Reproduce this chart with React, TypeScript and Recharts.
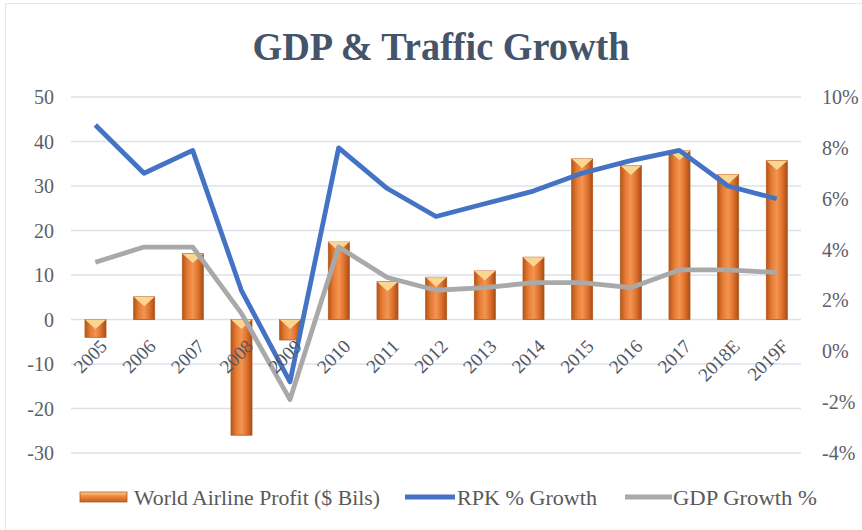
import React from 'react';
import { ComposedChart, Bar, Line, XAxis, YAxis, CartesianGrid } from 'recharts';

const years = ['2005', '2006', '2007', '2008', '2009', '2010', '2011', '2012', '2013', '2014', '2015', '2016', '2017', '2018E', '2019F'];
const profit = [-4, 5.1, 14.8, -26, -4.6, 17.4, 8.5, 9.5, 10.9, 14, 36.1, 34.6, 37.9, 32.6, 35.7];
const rpk = [8.9, 7.0, 7.9, 2.4, -1.2, 8.0, 6.4, 5.3, 5.8, 6.3, 7.0, 7.5, 7.9, 6.5, 6.0];
const gdp = [3.5, 4.1, 4.1, 1.5, -1.9, 4.1, 2.9, 2.4, 2.5, 2.7, 2.7, 2.5, 3.2, 3.2, 3.1];

const leftTicks = [-30, -20, -10, 0, 10, 20, 30, 40, 50];
const rightTicks = [-4, -2, 0, 2, 4, 6, 8, 10];

const data = years.map((year, i) => ({ year, profit: profit[i], rpk: rpk[i], gdp: gdp[i] }));

// plot box
const W = 862;
const H = 530;
const TOP = 97;
const BOTTOM = 453;
const X_AXIS_H = 30;
const PLOT_H = BOTTOM - TOP;
const zeroShift = (PLOT_H * (0 - leftTicks[0])) / (leftTicks[leftTicks.length - 1] - leftTicks[0]);

const SERIF = 'Liberation Serif, Times New Roman, serif';
const tickColor = '#5b606a';

const CylinderBar = (props: any) => {
  const { x, y, width, height } = props;
  const top = Math.min(y, y + height);
  const h = Math.abs(height);
  const cap = Math.min(width * 0.45, h);
  return (
    <g>
      <rect x={x} y={top} width={width} height={h} fill="url(#barGrad)" stroke="#b5591d" strokeWidth={0.8} />
      <polygon points={`${x},${top} ${x + width},${top} ${x + width / 2},${top + cap}`} fill="#fbd592" />
    </g>
  );
};

// year labels sit on the zero line, not at the bottom of the plot
const YearTick = (props: any) => {
  const { x, y, payload } = props;
  const ax = x + 13;
  const ay = y - zeroShift + 28;
  return (
    <text
      x={ax}
      y={ay}
      transform={`rotate(-45 ${ax} ${ay})`}
      textAnchor="end"
      style={{ fontFamily: SERIF, fontSize: 19 }}
      fill="#4f5766"
    >
      {payload.value}
    </text>
  );
};

const LeftTick = (props: any) => {
  const { x, y, payload } = props;
  return (
    <text x={x} y={y} dy={7} textAnchor="end" style={{ fontFamily: SERIF, fontSize: 20 }} fill={tickColor}>
      {payload.value}
    </text>
  );
};

const RightTick = (props: any) => {
  const { x, y, payload } = props;
  return (
    <text x={x} y={y} dy={7} textAnchor="start" style={{ fontFamily: SERIF, fontSize: 20 }} fill={tickColor}>
      {`${payload.value}%`}
    </text>
  );
};

const legendStyle = { fontFamily: SERIF, fontSize: 21 };

const App = () => {
  return (
    <div style={{ position: 'fixed', left: 0, top: 0, width: W, height: H, background: '#fff', overflow: 'hidden' }}>
      <div style={{ position: 'absolute', left: 5, top: 3, width: W + 10, height: H + 10, border: '1px solid #e3e6eb' }} />
      <ComposedChart
        width={W}
        height={H}
        data={data}
        margin={{ top: TOP, right: 0, bottom: H - BOTTOM - X_AXIS_H, left: 21 }}
        style={{ position: 'absolute', left: 0, top: 0 }}
      >
        <defs>
          <linearGradient id="barGrad" x1="0" y1="0" x2="1" y2="0">
            <stop offset="0%" stopColor="#b55618" />
            <stop offset="25%" stopColor="#e67c34" />
            <stop offset="50%" stopColor="#f29552" />
            <stop offset="75%" stopColor="#e0712c" />
            <stop offset="100%" stopColor="#a54f18" />
          </linearGradient>
        </defs>
        <CartesianGrid yAxisId="left" vertical={false} stroke="#dde1e9" strokeWidth={1.5} />
        <XAxis
          dataKey="year"
          height={X_AXIS_H}
          axisLine={false}
          tickLine={false}
          tickSize={0}
          tickMargin={0}
          interval={0}
          tick={(p: any) => <YearTick {...p} />}
        />
        <YAxis
          yAxisId="left"
          orientation="left"
          width={50}
          domain={[leftTicks[0], leftTicks[leftTicks.length - 1]]}
          ticks={leftTicks}
          axisLine={false}
          tickLine={false}
          tickSize={0}
          tickMargin={17}
          tick={(p: any) => <LeftTick {...p} />}
        />
        <YAxis
          yAxisId="right"
          orientation="right"
          width={61}
          domain={[rightTicks[0], rightTicks[rightTicks.length - 1]]}
          ticks={rightTicks}
          axisLine={false}
          tickLine={false}
          tickSize={0}
          tickMargin={21}
          tick={(p: any) => <RightTick {...p} />}
        />
        <Bar yAxisId="left" dataKey="profit" barSize={21} shape={<CylinderBar />} isAnimationActive={false} />
        <Line yAxisId="right" type="linear" dataKey="rpk" stroke="#4472c4" strokeWidth={4.8} dot={false} strokeLinejoin="round" isAnimationActive={false} />
        <Line yAxisId="right" type="linear" dataKey="gdp" stroke="#a9a9a9" strokeWidth={4.8} dot={false} strokeLinejoin="round" isAnimationActive={false} />
      </ComposedChart>
      <svg width={W} height={H} style={{ position: 'absolute', left: 0, top: 0, pointerEvents: 'none' }}>
        <defs>
          <linearGradient id="legendGrad" x1="0" y1="0" x2="0" y2="1">
            <stop offset="0%" stopColor="#fbd592" />
            <stop offset="40%" stopColor="#f08a42" />
            <stop offset="100%" stopColor="#c2611f" />
          </linearGradient>
        </defs>
        <text
          x={441}
          y={60}
          textAnchor="middle"
          textLength={377}
          lengthAdjust="spacingAndGlyphs"
          style={{ fontFamily: SERIF, fontSize: 40, fontWeight: 'bold' }}
          fill="#44546a"
        >
          GDP &amp; Traffic Growth
        </text>
        <rect x={80} y={492} width={47} height={10} fill="url(#legendGrad)" stroke="#b5591d" strokeWidth={0.8} />
        <text x={134} y={505} textLength={246} lengthAdjust="spacingAndGlyphs" style={legendStyle} fill="#595959">
          World Airline Profit ($ Bils)
        </text>
        <line x1={405} y1={497} x2={455} y2={497} stroke="#4472c4" strokeWidth={5} />
        <text x={457} y={505} textLength={140} lengthAdjust="spacingAndGlyphs" style={legendStyle} fill="#595959">
          RPK % Growth
        </text>
        <line x1={625} y1={497} x2={672} y2={497} stroke="#a9a9a9" strokeWidth={5} />
        <text x={673} y={505} textLength={144} lengthAdjust="spacingAndGlyphs" style={legendStyle} fill="#595959">
          GDP Growth %
        </text>
      </svg>
    </div>
  );
};

export default App;
